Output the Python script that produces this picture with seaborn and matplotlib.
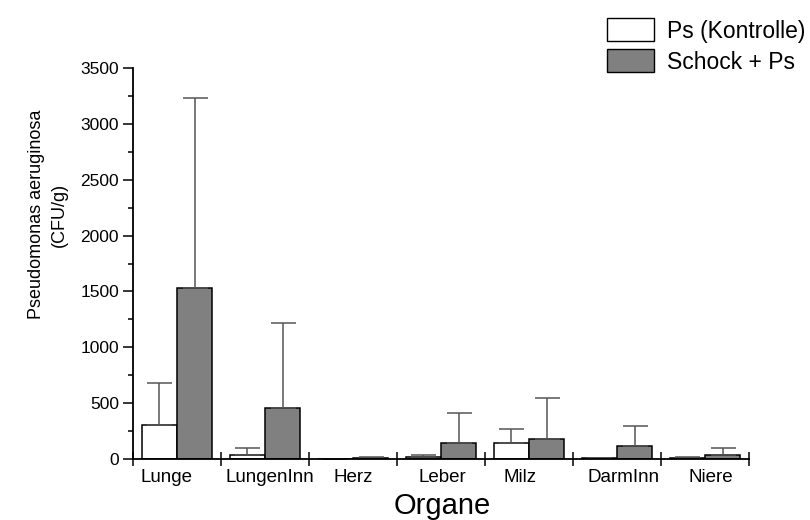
import matplotlib
matplotlib.use("Agg")
import matplotlib.pyplot as plt
from matplotlib.ticker import MultipleLocator, FixedLocator
from matplotlib.patches import Patch
import seaborn as sns
import pandas as pd
import numpy as np

# Bacterial load per organ (CFU/g): mean and upper SD
organs = ["Lunge", "LungenInn", "Herz", "Leber", "Milz", "DarmInn", "Niere"]
groups = ["Ps (Kontrolle)", "Schock + Ps"]
control_mean = [300, 36, 0, 15, 146, 6, 5]
control_sd = [383, 60, 0, 25, 125, 6, 15]
shock_mean = [1535, 454, 12, 140, 179, 116, 33]
shock_sd = [1695, 766, 6, 274, 370, 179, 63]

df = pd.DataFrame({
    "Organ": organs * 2,
    "Gruppe": [groups[0]] * len(organs) + [groups[1]] * len(organs),
    "CFU": control_mean + shock_mean,
})
sd_by_group = {groups[0]: control_sd, groups[1]: shock_sd}

sns.set_style("ticks")
plt.rcParams["font.family"] = ["Liberation Sans", "DejaVu Sans"]
plt.rcParams["text.color"] = "black"
plt.rcParams["axes.labelcolor"] = "black"
plt.rcParams["xtick.color"] = "black"
plt.rcParams["ytick.color"] = "black"

fig = plt.figure(figsize=(8.1, 5.2), dpi=100)
ax = fig.add_axes([133 / 810, 1 - 459 / 520, 616 / 810, 391 / 520])

sns.barplot(
    data=df, x="Organ", y="CFU", hue="Gruppe", order=organs, hue_order=groups,
    palette=["white", "#808080"], edgecolor="black", linewidth=1.1,
    errorbar=None, width=0.8, ax=ax, legend=False,
)

# One-sided (upward) error bars at the centres of the drawn bars
bars = ax.patches
for gi, g in enumerate(groups):
    means = df[df["Gruppe"] == g]["CFU"].to_numpy()
    sds = np.array(sd_by_group[g])
    xs = [bars[gi * len(organs) + i].get_x() + bars[gi * len(organs) + i].get_width() / 2
          for i in range(len(organs))]
    ax.errorbar(xs, means, yerr=[np.zeros_like(sds), sds], fmt="none",
                ecolor="#555555", elinewidth=1.1, capsize=9, capthick=1.1, zorder=1)

ax.set_xlim(-0.5, len(organs) - 0.5)
ax.set_ylim(0, 3500)

# y axis: majors every 500, minors in between
ax.yaxis.set_major_locator(MultipleLocator(500))
ax.yaxis.set_minor_locator(MultipleLocator(250))
ax.tick_params(axis="y", which="major", direction="out", length=7, width=1.1,
               labelsize=12.5, pad=3)
ax.tick_params(axis="y", which="minor", direction="out", length=3.5, width=1.1)

# x axis: ticks on the group boundaries, names placed under each group
label_shift = [-0.12, 0.06, 0.0, 0.01, -0.1, 0.07, 0.07]
ax.xaxis.set_major_locator(FixedLocator(np.arange(-0.5, len(organs), 1.0)))
ax.set_xticklabels([])
ax.xaxis.set_minor_locator(FixedLocator(np.arange(len(organs)) + np.array(label_shift)))
ax.set_xticklabels(organs, minor=True)
ax.tick_params(axis="x", which="major", direction="inout", length=10, width=1.1)
ax.tick_params(axis="x", which="minor", length=0, labelsize=13.5, pad=7)

for side in ("top", "right"):
    ax.spines[side].set_visible(False)
for side in ("left", "bottom"):
    ax.spines[side].set_linewidth(1.3)
    ax.spines[side].set_color("black")

ax.set_ylabel("Pseudomonas aeruginosa\n(CFU/g)", fontsize=13, linespacing=1.5)
ax.yaxis.set_label_coords(-0.105, 0.625)
ax.set_xlabel("Organe", fontsize=21)
ax.xaxis.set_label_coords(0.502, -0.085)

handles = [Patch(facecolor="white", edgecolor="black", linewidth=1.0),
           Patch(facecolor="#808080", edgecolor="black", linewidth=1.0)]
fig.legend(handles, groups, loc="upper left", bbox_to_anchor=(596 / 810, 1 - 7 / 520),
           frameon=False, fontsize=16.5, borderpad=0, handlelength=2.05,
           handleheight=1.15, handletextpad=0.55, labelspacing=0.3)

fig.savefig("out.png", dpi=100)
